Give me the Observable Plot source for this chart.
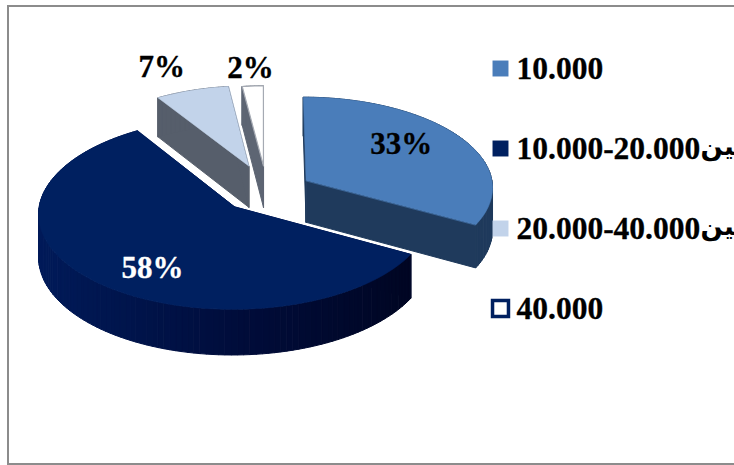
<!DOCTYPE html>
<html>
<head>
<meta charset="utf-8">
<style>
  html, body { margin: 0; padding: 0; background: #fff; }
  #chart { position: relative; width: 734px; height: 465px; overflow: hidden; }
  #chart svg { position: absolute; left: 0; top: 0; background: transparent; }
  #border { position: absolute; left: 7px; top: 5px; width: 760px; height: 456px; border: 2px solid #8c8c8c; }
</style>
<script src="https://cdn.jsdelivr.net/npm/d3@7"></script>
<script src="https://cdn.jsdelivr.net/npm/@observablehq/plot@0.6"></script>
</head>
<body>
<div id="chart"><div id="border"></div></div>
<script>
// Income bands and their share of respondents, clockwise from twelve o'clock
const bands = ["10.000", "10.000-20.000", "20.000-40.000", "40.000"];
const bandWords = ["", "بين", "بين", ""];
const shares = [33, 58, 7, 2];
const topColors = ["#4a7dba", "#002060", "#c2d3ea", "#ffffff"];
const wallColors = ["#1f3a5c", "#001550", "#565e6b", "#5d6573"];
const swatchStrokes = ["none", "none", "none", "#002060"];

// How far each slice is pulled out of the pie, and its radius, in pie radii
const offsetX = [0.223, -0.14, -0.071, 0.005];
const offsetY = [-0.105, 0.17, -0.263, -0.263];
const radii = [0.95, 0.98, 0.93, 0.93];

// Percentage labels: distance along the slice's middle, then a pixel nudge
const labelRadius = [0.62, 0.78, 1.22, 1.04];
const labelShift = [[-6, -8], [30, 4], [-14, -1], [-1, -9]];
const labelColors = ["#000000", "#ffffff", "#000000", "#000000"];

// Oblique view of the pie: radius and thickness in pixels, with mild foreshortening
const W = 734, H = 465, cx = 262, cy = 190, rx = 197, ry = 95, tilt = 0.07, thick = 42 / 95;
const project = (u, v) => {
  const p = 1 / (1 - tilt * v);
  return {x: u * p, y: v * p, p};
};

const total = d3.sum(shares);
let running = 0;
const slices = shares.map((share, i) => {
  const a0 = (running / total) * 2 * Math.PI;
  running += share;
  const a1 = (running / total) * 2 * Math.PI;
  const mid = (a0 + a1) / 2;
  const ox = offsetX[i], oy = offsetY[i];
  const at = (r, a) => project(ox + r * Math.sin(a), oy - r * Math.cos(a));
  const steps = Math.max(2, Math.ceil((a1 - a0) / 0.03));
  const arc = d3.range(steps + 1).map((k) => at(radii[i], a0 + ((a1 - a0) * k) / steps));
  return {i, a0, a1, mid, ox, oy, at, arc, apex: at(0, 0)};
});

const down = (pt) => ({x: pt.x, y: pt.y + thick * pt.p});
const face = (points, fill, stroke = fill, strokeWidth = 1) =>
  Plot.line(points, {x: "x", y: "y", curve: "linear-closed", fill, stroke, strokeWidth});

// Front-facing rim shading runs from left to right around the pie
const rimShade = {
  1: d3.scaleLinear().domain([-1.1, -0.1, 0.9]).range(["#001a58", "#000c3a", "#00051f"])
};

const pieMarks = [];
for (const i of [3, 2, 0, 1]) {
  const s = slices[i];
  const first = s.arc[0], last = s.arc[s.arc.length - 1];
  pieMarks.push(face([s.apex, first, down(first), down(s.apex)], wallColors[i]));
  pieMarks.push(face([s.apex, last, down(last), down(s.apex)], wallColors[i]));
  for (let k = 0; k + 1 < s.arc.length; k++) {
    const a = s.arc[k], b = s.arc[k + 1];
    const shade = rimShade[i] ? rimShade[i]((a.x + b.x) / 2) : wallColors[i];
    pieMarks.push(face([a, b, down(b), down(a)], shade));
  }
  const edge = i === 3 ? "#a5aab3" : topColors[i];
  pieMarks.push(face([s.apex, ...s.arc], topColors[i], edge, i === 3 ? 1.2 : 0.6));
}

const labels = slices.map((s, i) => {
  const pt = s.at(labelRadius[i], s.mid);
  return {x: pt.x, y: pt.y, text: shares[i] + "%", fill: labelColors[i], dx: labelShift[i][0], dy: labelShift[i][1]};
});

const serif = "'Liberation Serif', 'Times New Roman', 'DejaVu Sans', serif";

const pie = Plot.plot({
  width: W, height: H, margin: 0,
  x: {domain: [-cx / rx, (W - cx) / rx], range: [0, W], axis: null},
  y: {domain: [-cy / ry, (H - cy) / ry], range: [0, H], axis: null},
  style: {background: "transparent"},
  marks: [
    ...pieMarks,
    ...labels.map((d) => Plot.text([d], {
      x: "x", y: "y", text: "text", fill: d.fill, stroke: d.fill, strokeWidth: 0.3, dx: d.dx, dy: d.dy,
      fontFamily: serif, fontWeight: "bold", fontSize: 31
    }))
  ]
});

const legendRows = bands.map((band, i) => ({
  band, word: bandWords[i], fill: i === 3 ? "#ffffff" : topColors[i], stroke: swatchStrokes[i]
}));

const legend = Plot.plot({
  width: W, height: H, margin: 0,
  x: {domain: [0, 1], range: [500, 516], axis: null},
  y: {type: "point", domain: bands, range: [67, 309], padding: 0, axis: null},
  style: {background: "transparent"},
  marks: [
    ...legendRows.map((d) => Plot.dot([d], {
      x: () => 0, y: "band", symbol: "square", r: 9,
      fill: d.fill, stroke: d.stroke, strokeWidth: 3.5
    })),
    Plot.text(legendRows, {
      x: () => 1, y: "band", text: "band", textAnchor: "start", fill: "#000", stroke: "#000", strokeWidth: 0.3,
      fontFamily: serif, fontWeight: "bold", fontSize: 31.5
    }),
    Plot.text(legendRows.filter((d) => d.word), {
      x: () => 1, y: "band", text: "word", textAnchor: "start", dx: 184, dy: -2, fill: "#000",
      fontFamily: "'DejaVu Sans', sans-serif", fontWeight: "bold", fontSize: 26
    })
  ]
});

document.getElementById("chart").append(pie, legend);
</script>
</body>
</html>
